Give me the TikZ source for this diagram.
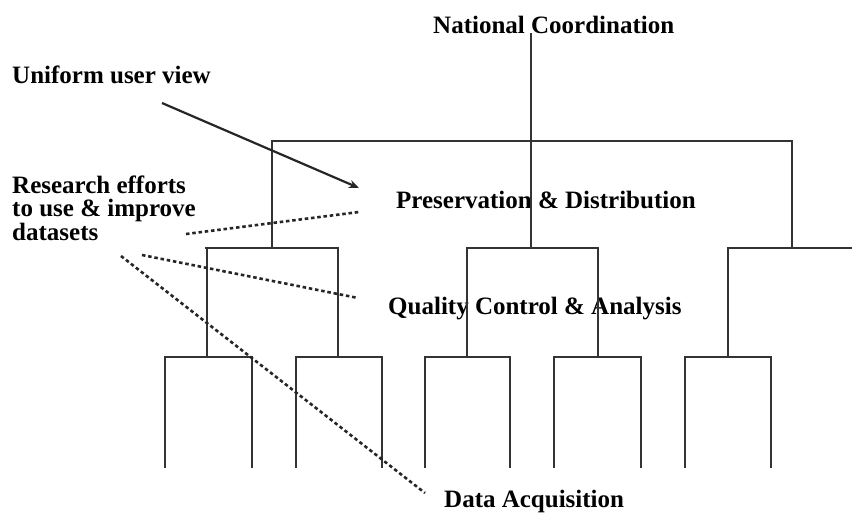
\documentclass[tikz,border=0pt]{standalone}
\usepackage{fontspec}
\setmainfont{Liberation Serif}
\usetikzlibrary{arrows.meta}
\tikzset{
  lbl/.style={anchor=base west, inner sep=0pt, font=\fontsize{25}{24}\selectfont\bfseries},
  tree/.style={line width=2.2pt, draw=black!80, line cap=rect},
  pointer/.style={line width=2.2pt, draw=black!85, -{Stealth[length=10pt,width=8pt]}},
  dots/.style={line width=2.6pt, draw=black!85, dash pattern=on 3.5pt off 2.8pt}
}
\begin{document}
\begin{tikzpicture}[x=1pt,y=-1pt]
\useasboundingbox[fill=white] (0,0) rectangle (852,512);
% labels
\node[lbl] (nc) at (433,33) {National Coordination};
\node[lbl] (uv) at (12,83) {Uniform user view};
\node[lbl] (pd) at (396,208) {Preservation \& Distribution};
\node[lbl] (r1) at (12,193) {Research efforts};
\node[lbl] (r2) at (12,216.5) {to use \& improve};
\node[lbl] (r3) at (12,240) {datasets};
\node[lbl] (qc) at (388,314) {Quality Control \& Analysis};
\node[lbl] (da) at (444,507) {Data Acquisition};
% tree coordinates
\coordinate (top) at (531,34);
\coordinate (b1l) at (272,141); \coordinate (b1r) at (792,141);
\coordinate (l2a) at (206,248); \coordinate (l2b) at (338,248);
\coordinate (l2c) at (467,248); \coordinate (l2d) at (598,248);
\coordinate (l2e) at (728,248); \coordinate (l2f) at (852,248);
\coordinate (mid) at (531,248);
% top stem
\draw[tree] (top) -- (mid);
\draw[tree] (l2a -| b1l) -- (b1l) -- (b1r) -- (l2e -| b1r);
% level 2 brackets
\draw[tree] (l2a) -- (l2b);
\draw[tree] (l2c) -- (l2d);
\draw[tree] (l2e) -- (l2f);
\draw[tree] (207,248) -- (207,357);
\draw[tree] (338,248) -- (338,357);
\draw[tree] (467,248) -- (467,357);
\draw[tree] (598,248) -- (598,357);
\draw[tree] (728,248) -- (728,357);
% level 3 brackets
\foreach \l/\r in {165/252, 296/382, 425/510, 554/641, 685/771}{
  \draw[tree] (\l,467) -- (\l,357) -- (\r,357) -- (\r,467);
}
% annotation lines
\coordinate (uvs) at (162,103); \coordinate (uve) at (359,188);
\draw[pointer] (uvs) -- (uve);
\coordinate (d1s) at (186,234); \coordinate (d1e) at (359,212);
\coordinate (d2s) at (142,255); \coordinate (d2e) at (358,298);
\coordinate (d3s) at (121,256); \coordinate (d3e) at (425,493);
\draw[dots] (d1s) -- (d1e);
\draw[dots] (d2s) -- (d2e);
\draw[dots] (d3s) -- (d3e);
\end{tikzpicture}
\end{document}
